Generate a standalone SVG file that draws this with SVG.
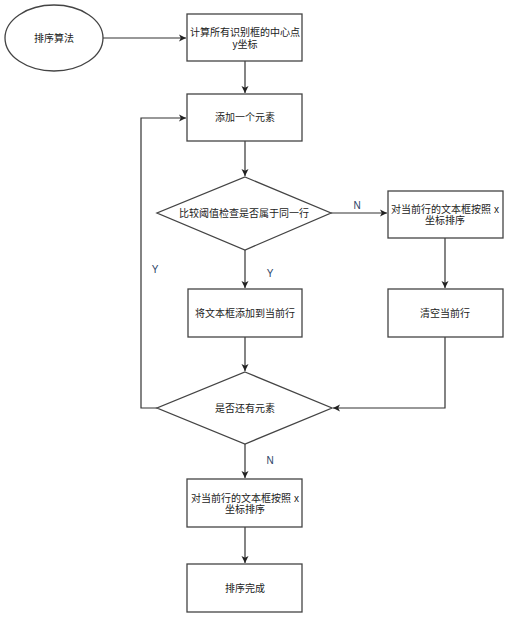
<svg xmlns="http://www.w3.org/2000/svg" width="515" height="621" viewBox="0 0 515 621">
<defs>
<marker id="arr" markerWidth="8" markerHeight="8" refX="7" refY="4" orient="auto" markerUnits="userSpaceOnUse">
<path d="M0,0.5 L7,4 L0,7.5 L1.8,4 Z" fill="#222"/>
</marker>
<style>
.shape{fill:#fff;stroke:#444;stroke-width:1.3}
.t{font-family:"Liberation Sans","Noto Sans CJK SC",sans-serif;font-size:10px;fill:#222;text-anchor:middle;dominant-baseline:central}
.lbl{font-family:"Liberation Sans","Noto Sans CJK SC",sans-serif;font-size:10px;fill:#2c4466;text-anchor:middle;dominant-baseline:central}
.c{fill:none;stroke:#333;stroke-width:1.2}
</style>
</defs>
<rect width="515" height="621" fill="#fff"/>
<g id="connectors">
<path class="c" d="M103,38 H186" marker-end="url(#arr)"/>
<path class="c" d="M245,61 V93" marker-end="url(#arr)"/>
<path class="c" d="M245,141 V176" marker-end="url(#arr)"/>
<path class="c" d="M331,213 H387" marker-end="url(#arr)"/>
<path class="c" d="M245,250 V288" marker-end="url(#arr)"/>
<path class="c" d="M445,238 V288" marker-end="url(#arr)"/>
<path class="c" d="M245,337 V371" marker-end="url(#arr)"/>
<path class="c" d="M445,337 V408 H333" marker-end="url(#arr)"/>
<path class="c" d="M157,408 H141 V118 H186" marker-end="url(#arr)"/>
<path class="c" d="M245,444 V478" marker-end="url(#arr)"/>
<path class="c" d="M245,527 V563" marker-end="url(#arr)"/>
<text class="lbl" x="357" y="205">N</text>
<text class="lbl" x="155" y="269">Y</text>
<text class="lbl" x="270" y="273">Y</text>
<text class="lbl" x="270" y="460">N</text>
</g>
<g id="start">
<ellipse class="shape" cx="54" cy="38" rx="49" ry="33"/>
<text class="t" x="54" y="38">排序算法</text>
</g>
<g id="calc">
<rect class="shape" x="187" y="14" width="115" height="47"/>
<text class="t" x="245" y="32">计算所有识别框的中心点</text>
<text class="t" x="245" y="44">y坐标</text>
</g>
<g id="add">
<rect class="shape" x="187" y="94" width="115" height="47"/>
<text class="t" x="245" y="117">添加一个元素</text>
</g>
<g id="check">
<polygon class="shape" points="245,177 331,213 245,250 157,213"/>
<text class="t" x="244" y="213">比较阈值检查是否属于同一行</text>
</g>
<g id="sortRow1">
<rect class="shape" x="388" y="191" width="115" height="47"/>
<text class="t" x="445" y="209">对当前行的文本框按照 x</text>
<text class="t" x="445" y="220">坐标排序</text>
</g>
<g id="addToRow">
<rect class="shape" x="188" y="289" width="114" height="48"/>
<text class="t" x="245" y="313">将文本框添加到当前行</text>
</g>
<g id="clearRow">
<rect class="shape" x="388" y="289" width="115" height="48"/>
<text class="t" x="445" y="313">清空当前行</text>
</g>
<g id="more">
<polygon class="shape" points="245,372 332,408 245,444 157,408"/>
<text class="t" x="245" y="408">是否还有元素</text>
</g>
<g id="sortRow2">
<rect class="shape" x="187" y="479" width="115" height="48"/>
<text class="t" x="245" y="498">对当前行的文本框按照 x</text>
<text class="t" x="245" y="509">坐标排序</text>
</g>
<g id="done">
<rect class="shape" x="187" y="564" width="115" height="48"/>
<text class="t" x="245" y="588">排序完成</text>
</g>
</svg>
